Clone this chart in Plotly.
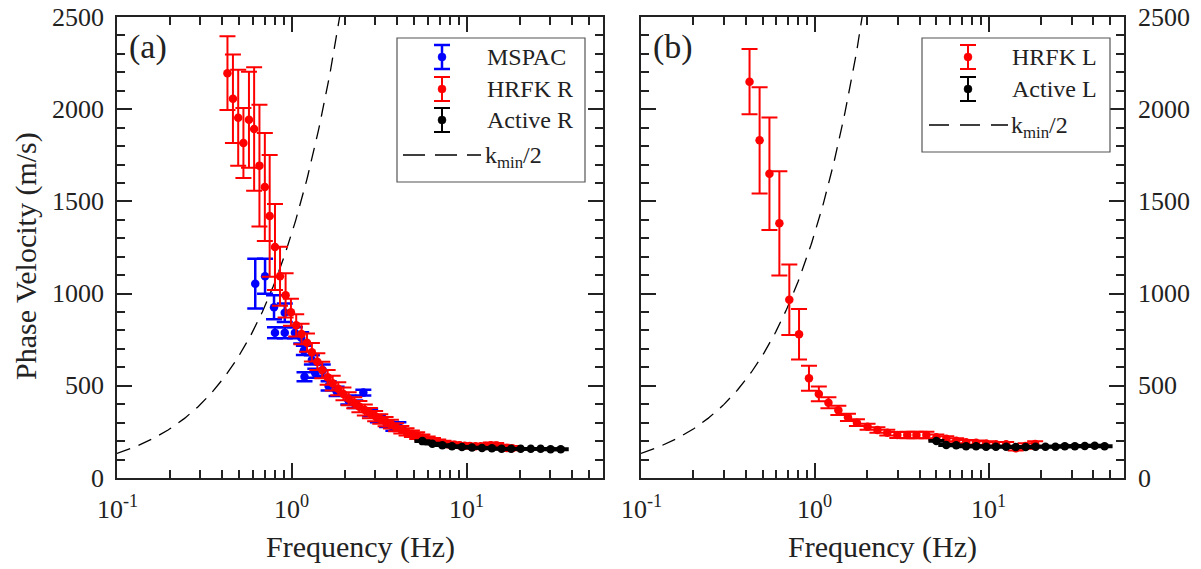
import numpy as np
import plotly.graph_objects as go

W, H = 1201, 569

# ---------------- data: panel (a) ----------------
MSPAC_F = [0.617, 0.702, 0.79, 0.80, 0.91, 0.91, 1.04, 1.13, 1.17, 1.18, 1.30, 1.36,
           1.50, 1.62, 1.80, 2.10, 2.30, 2.56, 2.80, 3.10, 3.50, 3.80, 4.06]
MSPAC_V = [1054, 1094, 926, 788, 896, 788, 788, 760, 692, 549, 640, 568,
           585, 499, 470, 423, 400, 463, 355, 322, 292, 271, 287]
MSPAC_E = [135, 95, 65, 30, 50, 30, 30, 30, 25, 25, 25, 25,
           30, 25, 25, 25, 20, 15, 20, 20, 15, 15, 15]

HRFK_R_F = [0.428, 0.46, 0.493, 0.528, 0.568, 0.608, 0.652, 0.70, 0.746, 0.80,
            0.855, 0.92, 0.987, 1.058, 1.135, 1.219, 1.30, 1.397, 1.49, 1.60,
            1.71, 1.84, 1.97, 2.11, 2.27, 2.43, 2.61, 2.79, 2.99, 3.2,
            3.43, 3.68, 3.94, 4.22, 4.52, 4.85, 5.2, 5.57, 5.97, 6.4,
            6.86, 7.35, 7.88, 8.45, 9.06, 9.71, 10.4, 11.2, 12.0, 12.8,
            13.7, 14.7, 15.8, 16.9, 18.1]
HRFK_R_V = [2195, 2057, 1954, 1817, 1943, 1893, 1694, 1578, 1421, 1253,
            1094, 991, 899, 828, 781, 734, 682, 631, 586, 546,
            514, 484, 456, 430, 408, 387, 369, 352, 336, 320,
            306, 292, 275, 262, 250, 240, 230, 220, 210, 202,
            195, 188, 183, 180, 177, 175, 174, 172, 172, 174,
            178, 176, 168, 163, 162]
HRFK_R_E = [200, 240, 260, 190, 260, 335, 330, 293, 330, 233,
            160, 120, 73, 60, 55, 50, 50, 45, 45, 40,
            40, 35, 35, 35, 30, 30, 30, 28, 28, 26,
            25, 24, 22, 20, 20, 18, 18, 16, 15, 15,
            14, 14, 13, 13, 12, 12, 12, 12, 12, 12,
            14, 14, 12, 12, 12]

ACT_R_F = [5.57, 6.35, 7.24, 8.22, 9.37, 10.7, 12.2, 13.9, 15.8, 17.9,
           20.3, 23.2, 26.4, 30.1, 34.4]
ACT_R_V = [200, 186, 178, 172, 168, 165, 163, 161, 158, 158,
           158, 158, 158, 156, 156]
ACT_R_E = [5, 5, 5, 5, 5, 5, 5, 5, 5, 5, 5, 5, 5, 5, 5]

# ---------------- data: panel (b) ----------------
HRFK_L_F = [0.421, 0.481, 0.548, 0.625, 0.713, 0.811, 0.925, 1.054, 1.197, 1.365,
            1.55, 1.746, 2.01, 2.29, 2.61, 2.98, 3.40, 3.84, 4.38, 5.0,
            5.70, 6.50, 7.41, 8.46, 9.66, 11.0, 12.6, 14.3, 16.3, 18.5]
HRFK_L_V = [2149, 1831, 1650, 1381, 967, 779, 541, 456, 408, 367,
            329, 300, 278, 260, 246, 233, 233, 233, 233, 221,
            213, 202, 194, 191, 187, 183, 183, 161, 174, 184]
HRFK_L_E = [177, 288, 305, 283, 191, 137, 68, 40, 30, 25,
            20, 18, 16, 15, 15, 16, 18, 18, 18, 15,
            14, 13, 12, 12, 12, 12, 12, 12, 15, 15]

ACT_L_F = [5.0, 5.70, 6.50, 7.41, 8.46, 9.66, 11.0, 12.6, 14.3, 16.3,
           18.6, 21.2, 24.2, 27.4, 31.3, 35.7, 40.7, 46.4]
ACT_L_V = [201, 179, 177, 172, 172, 170, 170, 170, 168, 168,
           170, 170, 170, 172, 172, 174, 175, 172]
ACT_L_E = [5, 5, 5, 5, 5, 5, 5, 5, 5, 5, 5, 5, 5, 5, 5, 5, 5, 5]

# array resolution limit: k_min/2 (v = 2*pi*f / (k_min/2))
K_MIN_HALF = 2 * np.pi / 1330.0   # rad/m
F_LINE = np.logspace(-1, np.log10(2.2), 240)
V_LINE = 2 * np.pi * F_LINE / K_MIN_HALF

X_TICKS = [0.1, 1, 10]
X_TICKTEXT = ["10<sup>-1</sup>", "10<sup>0</sup>", "10<sup>1</sup>"]
X_MINOR = [0.2, 0.3, 0.4, 0.5, 0.6, 0.7, 0.8, 0.9, 2, 3, 4, 5, 6, 7, 8, 9, 20, 30, 40, 50]
Y_TICKS = [0, 500, 1000, 1500, 2000, 2500]
Y_TICKTEXT = ["0", "500", "1000", "1500", "2000", "2500"]

FONT = "Liberation Serif"
INK = "#222222"
RED = "#ff0000"
BLUE = "#0000ff"

fig = go.Figure()

def dashed(xa, ya):
    fig.add_trace(go.Scatter(x=F_LINE, y=V_LINE, mode="lines", xaxis=xa, yaxis=ya,
                             line=dict(color="black", width=1.3, dash="14px,9px"),
                             hoverinfo="skip", name="k_min/2"))

def errpts(f, v, e, color, name, xa, ya, thick=2, w=8):
    fig.add_trace(go.Scatter(
        x=f, y=v, mode="markers", name=name, xaxis=xa, yaxis=ya,
        marker=dict(color=color, size=8.5, line=dict(width=0)),
        error_y=dict(type="data", array=e, visible=True, color=color,
                     thickness=thick, width=w)))

# panel (a)
dashed("x", "y")
errpts(MSPAC_F, MSPAC_V, MSPAC_E, BLUE, "MSPAC", "x", "y", thick=2.5)
errpts(HRFK_R_F, HRFK_R_V, HRFK_R_E, RED, "HRFK R", "x", "y")
errpts(ACT_R_F, ACT_R_V, ACT_R_E, "black", "Active R", "x", "y")
# panel (b)
dashed("x2", "y2")
errpts(HRFK_L_F, HRFK_L_V, HRFK_L_E, RED, "HRFK L", "x2", "y2")
errpts(ACT_L_F, ACT_L_V, ACT_L_E, "black", "Active L", "x2", "y2")

def xax(dom, anchor):
    return dict(type="log", domain=dom, anchor=anchor, range=[-1, np.log10(60)],
                automargin=False, showticklabels=False,
                tickmode="array", tickvals=X_TICKS,
                ticks="inside", ticklen=15, tickwidth=2, tickcolor=INK,
                showline=True, linecolor=INK, linewidth=2, mirror="ticks",
                showgrid=False, zeroline=False,
                minor=dict(tickmode="array", tickvals=X_MINOR, ticks="inside", ticklen=8,
                           tickwidth=2, tickcolor=INK, showgrid=False))

def yax(dom, anchor, side):
    return dict(domain=dom, anchor=anchor, side=side, range=[0, 2500],
                automargin=False, showticklabels=False,
                tickmode="array", tickvals=Y_TICKS,
                ticks="inside", ticklen=15, tickwidth=2, tickcolor=INK,
                showline=True, linecolor=INK, linewidth=2, mirror="ticks",
                showgrid=False, zeroline=False,
                minor=dict(dtick=100, ticks="inside", ticklen=8, tickwidth=2,
                           tickcolor=INK, showgrid=False))

YDOM = [1 - 478 / H, 1 - 17 / H]

fig.update_layout(
    template="none",
    width=W, height=H, margin=dict(l=0, r=0, t=0, b=0, autoexpand=False),
    font=dict(family=FONT, size=26, color=INK),
    paper_bgcolor="white", plot_bgcolor="white", showlegend=False,
    xaxis=xax([117 / W, 603 / W], "y"),
    yaxis=yax(YDOM, "x", "left"),
    xaxis2=xax([641 / W, 1124 / W], "y2"),
    yaxis2=yax(YDOM, "x2", "right"),
)

# ---------------- text & custom legends ----------------
def PX(x):
    return x / W

def PY(y):
    return 1 - y / H

shapes = []
annots = []

def text(x, y, s, size, xanchor="center", yanchor="middle", xref="paper", yref="paper", angle=0):
    annots.append(dict(xref=xref, yref=yref, x=x, y=y, text=s, showarrow=False,
                       xanchor=xanchor, yanchor=yanchor, textangle=angle,
                       font=dict(family=FONT, size=size, color=INK)))

# tick labels placed through the axes' own scales
for xr in ("x", "x2"):
    for v, s in zip(X_TICKS, X_TICKTEXT):
        text(float(np.log10(v)), PY(489), s, 26, yanchor="top", xref=xr)
for v, s in zip(Y_TICKS, Y_TICKTEXT):
    text(PX(106), v, s, 26, xanchor="right", yref="y")
    text(PX(1136), v, s, 26, xanchor="left", yref="y2")

# axis titles
text(PX(360), PY(547), "Frequency (Hz)", 30)
text(PX(882), PY(547), "Frequency (Hz)", 30)
text(PX(26), PY(256), "Phase Velocity (m/s)", 30, angle=-90)

def legend_box(x0, y0, x1, y1):
    shapes.append(dict(type="rect", xref="paper", yref="paper",
                       x0=PX(x0), x1=PX(x1), y0=PY(y1), y1=PY(y0),
                       line=dict(color="#555555", width=1.2), fillcolor="white", layer="above"))

def legend_err(xc, yc, color, label, xtext, thick=2):
    shapes.append(dict(type="line", xref="paper", yref="paper",
                       x0=PX(xc), x1=PX(xc), y0=PY(yc - 12), y1=PY(yc + 12),
                       line=dict(color=color, width=thick), layer="above"))
    for dy in (-12, 12):
        shapes.append(dict(type="line", xref="paper", yref="paper",
                           x0=PX(xc - 8), x1=PX(xc + 8), y0=PY(yc + dy), y1=PY(yc + dy),
                           line=dict(color=color, width=thick), layer="above"))
    shapes.append(dict(type="circle", xref="paper", yref="paper",
                       x0=PX(xc - 4), x1=PX(xc + 4), y0=PY(yc + 4), y1=PY(yc - 4),
                       fillcolor=color, line=dict(color=color, width=0.5), layer="above"))
    text(PX(xtext), PY(yc), label, 24, xanchor="left")

def legend_dash(x0, x1, yc, xtext, dash):
    shapes.append(dict(type="line", xref="paper", yref="paper",
                       x0=PX(x0), x1=PX(x1), y0=PY(yc), y1=PY(yc),
                       line=dict(color="black", width=1.3, dash=dash), layer="above"))
    text(PX(xtext), PY(yc + 2), "k<sub>min</sub>/2", 24, xanchor="left")

# panel (a) legend
legend_box(397, 38, 585, 182)
legend_err(442, 57, BLUE, "MSPAC", 485, thick=2.5)
legend_err(442, 89, RED, "HRFK R", 485)
legend_err(442, 120, "black", "Active R", 485)
legend_dash(403, 481, 155, 483, "22px,10px")

# panel (b) legend
legend_box(922, 38, 1110, 152)
legend_err(968, 57, RED, "HRFK L", 1010)
legend_err(968, 89, "black", "Active L", 1010)
legend_dash(929, 1008, 125, 1009, "20px,11px")

# panel labels
text(PX(127), PY(47), "(a)", 34, xanchor="left")
text(PX(651), PY(47), "(b)", 34, xanchor="left")

fig.update_layout(shapes=shapes, annotations=annots)

fig.write_html("out.html")
